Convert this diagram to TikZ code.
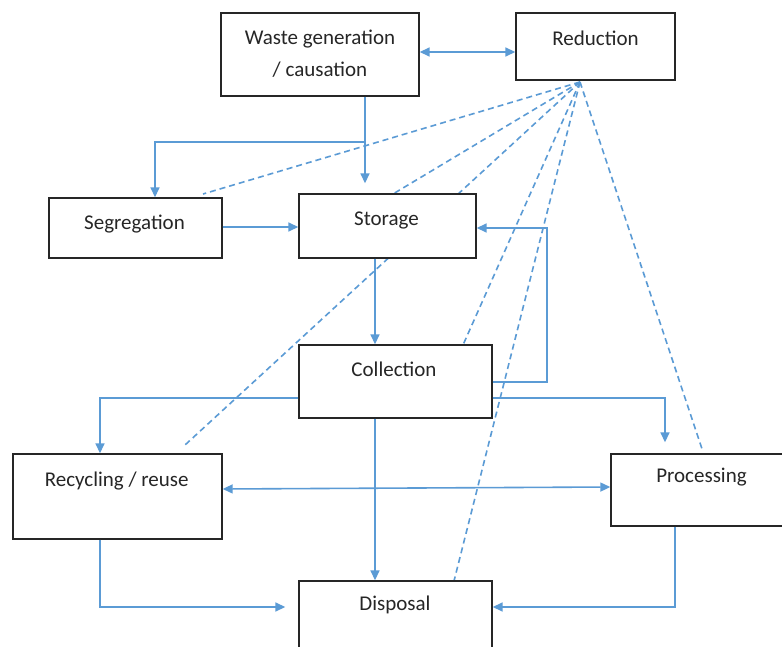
\documentclass[tikz,border=0pt]{standalone}
\usepackage{fontspec}
\setmainfont{Carlito}
\usetikzlibrary{arrows.meta,calc}
\definecolor{lblue}{HTML}{5B9BD5}
\definecolor{boxline}{HTML}{262626}
\begin{document}
\begin{tikzpicture}[x=1pt,y=-1pt,
  box/.style={draw=boxline, line width=1.4pt, fill=white, inner sep=0pt},
  lbl/.style={font=\fontsize{21}{25}\selectfont, text=boxline, inner sep=0pt, anchor=base},
  conn/.style={draw=lblue, line width=1.6pt, -{Triangle[length=10pt,width=9pt]}},
  dconn/.style={draw=lblue, line width=1.6pt, dash pattern=on 6pt off 4pt},
]
\clip (0,0) rectangle (782,647);
\fill[white] (0,0) rectangle (782,647);

% origin of the dashed lines
\coordinate (ro) at (580,82);
\coordinate (segd) at (203,194);
\coordinate (stod) at (393,194);
\coordinate (recd) at (185,445);
\coordinate (cold) at (463,345);
\coordinate (disd) at (454,581);
\coordinate (prod) at (703,452);

% dashed lines (drawn first, behind boxes)
\draw[dconn] (ro) -- (segd);
\draw[dconn] (ro) -- (stod);
\draw[dconn] (ro) -- (recd);
\draw[dconn] (ro) -- (cold);
\draw[dconn] (ro) -- (disd);
\draw[dconn] (ro) -- (prod);

% boxes
\node[box, minimum width=198pt, minimum height=83pt] (wg) at (320,54.5) {};
\node[box, minimum width=159pt, minimum height=67pt] (red) at (595.5,46.5) {};
\node[box, minimum width=173pt, minimum height=60pt] (seg) at (135.5,228) {};
\node[box, minimum width=177pt, minimum height=64pt] (sto) at (387.5,226) {};
\node[box, minimum width=193pt, minimum height=73pt] (col) at (395.5,381.5) {};
\node[box, minimum width=209pt, minimum height=85pt] (rec) at (117.5,496.5) {};
\node[box, minimum width=190pt, minimum height=72pt] (pro) at (706,490) {};
\node[box, minimum width=193pt, minimum height=90pt] (dis) at (395.5,626) {};

% texts
\node[lbl] (wgt1) at (320,45) {Waste generation};
\node[lbl] (wgt2) at (320,77) {/ causation};
\node[lbl] (redt) at (595.5,45.5) {Reduction};
\node[lbl] (segt) at (134.5,230) {Segregation};
\node[lbl] (stot) at (386.5,226) {Storage};
\node[lbl] (colt) at (394,376.5) {Collection};
\node[lbl] (rect) at (116.7,486.5) {Recycling / reuse};
\node[lbl] (prot) at (701.5,482.5) {Processing};
\node[lbl] (dist) at (395,610.5) {Disposal};

% helper coordinates
\coordinate (br) at (365,142);
\coordinate (fb) at (547,382);
\coordinate (cp) at (665,398);
\coordinate (cr) at (100,398);
\coordinate (rd) at (100,607);
\coordinate (pd) at (675,607);

% solid connectors
\draw[conn, {Triangle[length=10pt,width=9pt]}-{Triangle[length=10pt,width=9pt]}] (wg.east |- 0,52) -- (red.west |- 0,52);
\draw[conn] (wg.south -| br) -- ($(sto.north -| br)+(0,-10)$);
\draw[conn] (br) -| (seg.north -| 155,0);
\draw[conn] (seg.east |- 0,227) -- (sto.west |- 0,227);
\draw[conn] (sto.south -| 375,0) -- (col.north -| 375,0);
\draw[conn] (col.east |- fb) -| (fb |- 0,228) -- (sto.east |- 0,228);
\draw[conn] (col.east |- cp) -| ($(pro.north -| cp)+(0,-11)$);
\draw[conn] (col.west |- cr) -| (rec.north -| cr);
\draw[conn, {Triangle[length=10pt,width=9pt]}-{Triangle[length=10pt,width=9pt]}] (rec.east |- 0,489) -- (pro.west |- 0,487);
\draw[conn] (col.south -| 375,0) -- (dis.north -| 375,0);
\draw[conn] (rec.south -| rd) |- ($(dis.west |- rd)+(-13,0)$);
\draw[conn] (pro.south -| pd) |- (dis.east |- pd);
\end{tikzpicture}
\end{document}
